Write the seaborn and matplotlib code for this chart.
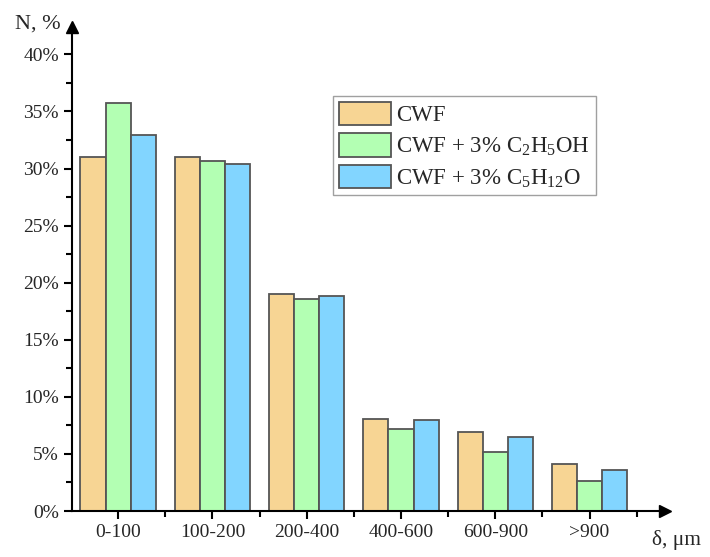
import matplotlib
matplotlib.use("Agg")
import matplotlib.pyplot as plt
import seaborn as sns
import pandas as pd
import numpy as np
from matplotlib.ticker import FixedLocator, PercentFormatter

categories = ["0-100", "100-200", "200-400", "400-600", "600-900", ">900"]
cwf = [31.0, 31.0, 19.0, 8.1, 6.9, 4.1]
cwf_ethanol = [35.7, 30.7, 18.6, 7.2, 5.2, 2.6]
cwf_pentanol = [32.9, 30.4, 18.8, 8.0, 6.5, 3.6]
series_names = ["CWF",
                r"CWF + 3% $\mathregular{C_2H_5OH}$",
                r"CWF + 3% $\mathregular{C_5H_{12}O}$"]
colors = ["#F7D594", "#B3FFB3", "#82D5FF"]

rows = []
for name, vals in zip(series_names, [cwf, cwf_ethanol, cwf_pentanol]):
    for c, v in zip(categories, vals):
        rows.append({"size": c, "value": v, "series": name})
df = pd.DataFrame(rows)

sns.set_style("white")
plt.rcParams["font.family"] = ["Liberation Serif", "DejaVu Serif"]
plt.rcParams["mathtext.fontset"] = "stix"

fig = plt.figure(figsize=(7.10, 5.57), dpi=100)
ax = fig.add_axes([72/710, 46/557, (665-72)/710, (511-27)/557])

sns.barplot(data=df, x="size", y="value", hue="series", order=categories,
            hue_order=series_names, palette=colors, width=0.8,
            edgecolor="#555555", linewidth=1.3, ax=ax, saturation=1)

ax.set_xlim(-0.49, 5.8)
ax.set_ylim(0, 42.4)
for s in ["top", "right"]:
    ax.spines[s].set_visible(False)
for s in ["left", "bottom"]:
    ax.spines[s].set_linewidth(1.5)
    ax.spines[s].set_color("black")

ax.yaxis.set_major_locator(FixedLocator([0, 5, 10, 15, 20, 25, 30, 35, 40]))
ax.yaxis.set_minor_locator(FixedLocator([2.5, 7.5, 12.5, 17.5, 22.5, 27.5, 32.5, 37.5]))
ax.yaxis.set_major_formatter(PercentFormatter(decimals=0))
ax.xaxis.set_minor_locator(FixedLocator([0.5, 1.5, 2.5, 3.5, 4.5, 5.5]))
ax.tick_params(axis="both", which="major", direction="out", length=6, width=1.5,
               labelsize=14, color="black", left=True, bottom=True)
ax.tick_params(axis="both", which="minor", direction="out", length=4, width=1.5,
               color="black", left=True, bottom=True)
ax.set_xlabel("")
ax.set_ylabel("")

# arrow heads
ax.plot([1], [0], marker=">", markersize=9, color="black", transform=ax.transAxes, clip_on=False)
ax.plot([0], [1], marker="^", markersize=9, color="black", transform=ax.transAxes, clip_on=False)

fig.text(15/710, 1 - 24/557, "N, %", fontsize=16, ha="left", va="center")
fig.text(652/710, 1 - 540/557, "δ, μm", fontsize=15.5, ha="left", va="center")

leg = ax.legend(loc="upper left", bbox_to_anchor=((333-72)/593, (511-96)/484),
                fontsize=16.5, frameon=True, fancybox=False, edgecolor="#888888",
                handlelength=2.3, handleheight=1.2, handletextpad=0.2,
                borderpad=0.25, labelspacing=0.3, borderaxespad=0)
leg.get_frame().set_linewidth(1.0)

fig.savefig("out.png", dpi=100)
